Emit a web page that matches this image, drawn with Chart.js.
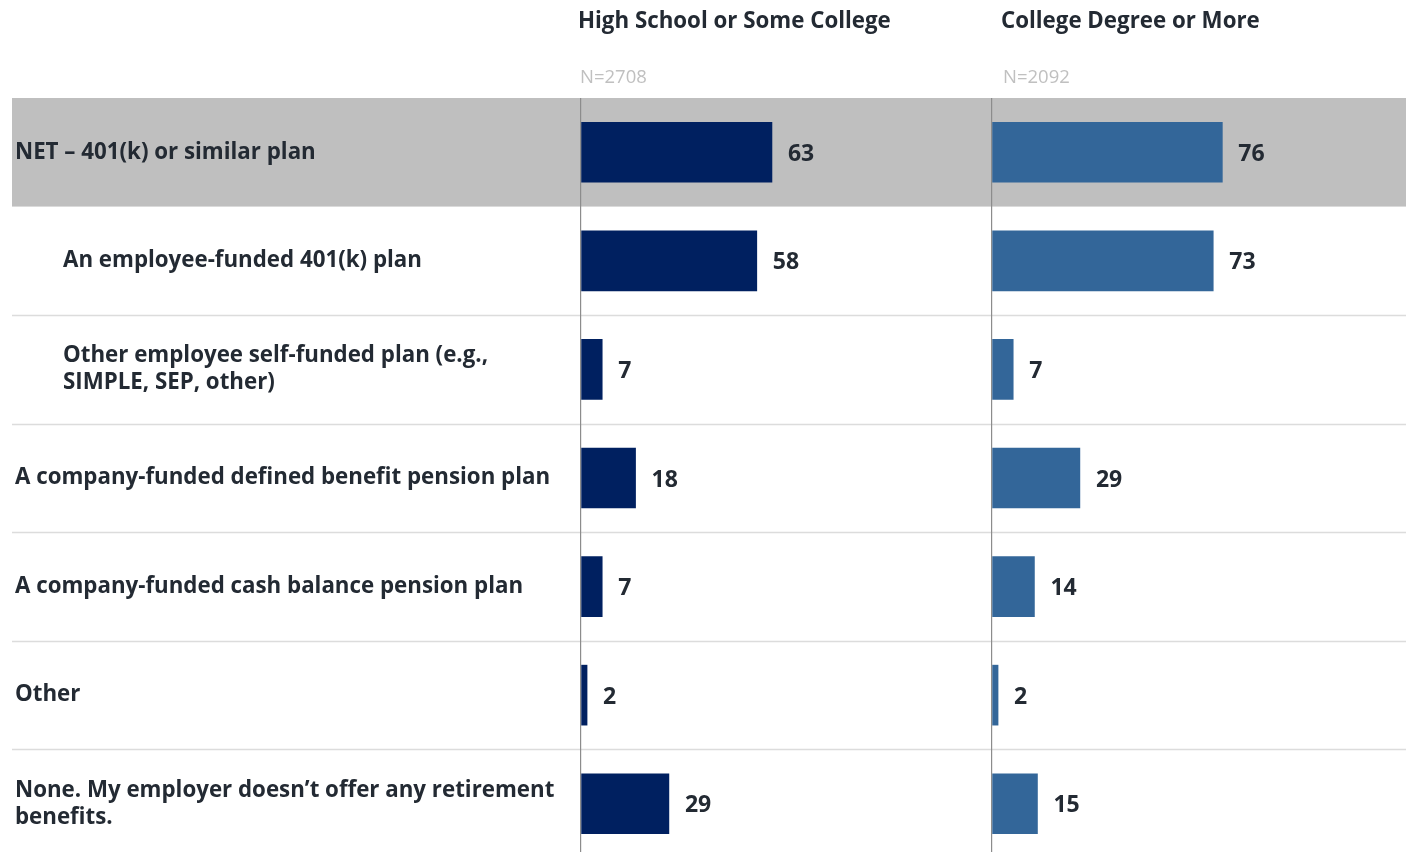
<!DOCTYPE html>
<html><head><meta charset="utf-8">
<script src="https://cdn.jsdelivr.net/npm/chart.js@4.4.1/dist/chart.umd.min.js"></script>
<style>
html,body{margin:0;padding:0;background:#fff;overflow:hidden;width:1406px;height:852px;}
#wrap{position:absolute;left:0;top:0;width:1406px;height:858px;}
.hdr{position:absolute;font-family:"Open Sans",sans-serif;font-weight:700;font-size:22.3px;color:#232a33;white-space:nowrap;line-height:1;}
.n{position:absolute;font-family:"Open Sans",sans-serif;font-size:18.5px;color:#c0c0c0;white-space:nowrap;line-height:1;}
</style></head><body>
<div id="wrap"><canvas id="c" width="1406" height="858"></canvas></div>
<div class="hdr" id="h0" style="left:578px;top:9px;"></div>
<div class="hdr" id="h1" style="left:1001px;top:9px;"></div>
<div class="n" id="n0" style="left:580px;top:67px;"></div>
<div class="n" id="n1" style="left:1003px;top:67px;"></div>
<script>
const categories = [
  'NET \u2013 401(k) or similar plan',
  'An employee-funded 401(k) plan',
  ['Other employee self-funded plan (e.g.,', 'SIMPLE, SEP, other)'],
  'A company-funded defined benefit pension plan',
  'A company-funded cash balance pension plan',
  'Other',
  ['None. My employer doesn\u2019t offer any retirement', 'benefits.']
];
const indentLevels = [0, 1, 1, 0, 0, 0, 0];
const highSchool = [63, 58, 7, 18, 7, 2, 29];
const college = [76, 73, 7, 29, 14, 2, 15];
const groupTitles = ['High School or Some College', 'College Degree or More'];
const sampleSizes = ['N=2708', 'N=2092'];
const highlightRow = 0;

document.getElementById('h0').textContent = groupTitles[0];
document.getElementById('h1').textContent = groupTitles[1];
document.getElementById('n0').textContent = sampleSizes[0];
document.getElementById('n1').textContent = sampleSizes[1];

const FONT = '"Open Sans", sans-serif';
const TEXT = '#232a33';

const rowsPlugin = {
  id: 'rows',
  beforeDraw(chart) {
    const ctx = chart.ctx, y = chart.scales.y;
    const half = (y.getPixelForValue(1) - y.getPixelForValue(0)) / 2;
    ctx.save();
    const yc = y.getPixelForValue(highlightRow);
    ctx.fillStyle = '#bfbfbf';
    ctx.fillRect(12, yc - half, chart.width - 12, half * 2);
    ctx.strokeStyle = '#dcdcdc';
    ctx.lineWidth = 1.5;
    for (let i = 1; i < categories.length; i++) {
      if (i === highlightRow || i === highlightRow + 1) continue;
      const yy = Math.round(y.getPixelForValue(i) - half) + 0.5;
      ctx.beginPath(); ctx.moveTo(12, yy); ctx.lineTo(chart.width, yy); ctx.stroke();
    }
    ctx.restore();
  },
  afterDraw(chart) {
    const ctx = chart.ctx, y = chart.scales.y;
    ctx.save();
    ctx.font = 'bold 22.3px ' + FONT;
    ctx.fillStyle = TEXT;
    ctx.textBaseline = 'middle';
    ctx.textAlign = 'left';
    const lh = 27;
    categories.forEach((lbl, i) => {
      const lines = Array.isArray(lbl) ? lbl : [lbl];
      const yc = y.getPixelForValue(i);
      const x = 15 + indentLevels[i] * 48;
      lines.forEach((t, k) => {
        ctx.fillText(t, x, yc + (k - (lines.length - 1) / 2) * lh);
      });
    });
    ctx.restore();
  },
  afterDatasetsDraw(chart) {
    const ctx = chart.ctx;
    ctx.save();
    ctx.font = 'bold 23px ' + FONT;
    ctx.fillStyle = TEXT;
    ctx.textBaseline = 'middle';
    ctx.textAlign = 'left';
    chart.data.datasets.forEach((ds, di) => {
      chart.getDatasetMeta(di).data.forEach((el, i) => {
        ctx.fillText(String(ds.data[i]), el.x + 16, el.y + 2);
      });
    });
    ctx.restore();
  }
};

const zeroLine = c => (c.tick && c.tick.value === 0) ? '#8c8c8c' : 'rgba(0,0,0,0)';

new Chart(document.getElementById('c'), {
  type: 'bar',
  data: {
    labels: categories,
    datasets: [
      { label: groupTitles[0], data: highSchool, xAxisID: 'x1', backgroundColor: '#002060', grouped: false, barThickness: 60 },
      { label: groupTitles[1], data: college, xAxisID: 'x2', backgroundColor: '#336699', grouped: false, barThickness: 60 }
    ]
  },
  options: {
    indexAxis: 'y',
    responsive: false,
    animation: false,
    layout: { padding: { left: 15, top: 98, right: 0, bottom: 0 } },
    plugins: { legend: { display: false }, tooltip: { enabled: false } },
    scales: {
      y: {
        type: 'category', position: 'left',
        grid: { display: false }, border: { display: false },
        ticks: { display: false },
        afterFit(s) { s.width = 566; }
      },
      x1: {
        type: 'linear', position: 'bottom', stack: 'panels', stackWeight: 411,
        min: 0, max: 135.6,
        grid: { color: zeroLine, drawTicks: false, lineWidth: 1.2 },
        border: { display: false }, ticks: { display: false }
      },
      x2: {
        type: 'linear', position: 'bottom', stack: 'panels', stackWeight: 414,
        min: 0, max: 136.6,
        grid: { color: zeroLine, drawTicks: false, lineWidth: 1.2 },
        border: { display: false }, ticks: { display: false }
      }
    }
  },
  plugins: [rowsPlugin]
});
</script>
</body></html>
